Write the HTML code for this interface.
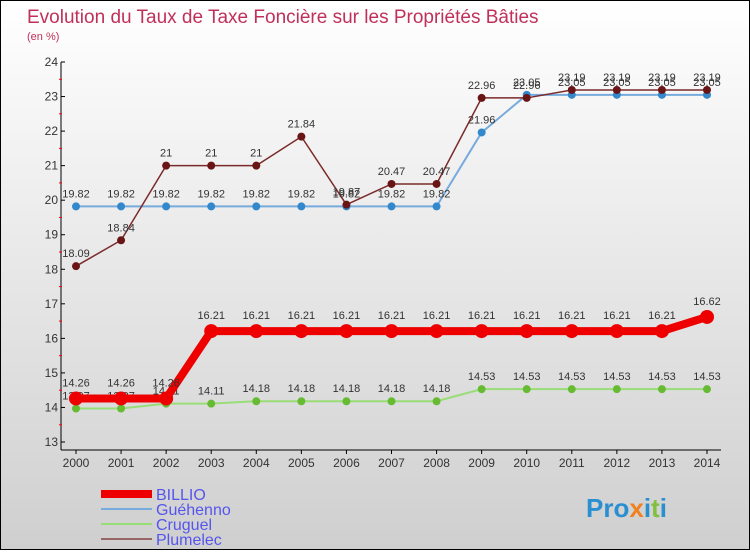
<!DOCTYPE html>
<html><head><meta charset="utf-8"><style>
body{margin:0;width:750px;height:550px;overflow:hidden}
#wrap{position:relative;width:748px;height:548px;border:1px solid #000;background:linear-gradient(#ffffff,#cfcfcf)}
svg text{font-family:"Liberation Sans",sans-serif}
</style></head><body>
<div id="wrap">
<svg id="chart" width="748" height="548">
<text x="26" y="22" font-size="19" fill="#c0305a">Evolution du Taux de Taxe Foncière sur les Propriétés Bâties</text>
<text x="26" y="39" font-size="11" fill="#c0305a">(en %)</text>
<g id="axes"></g><g id="series"></g><g id="legend"></g>
<text x="585" y="516" font-size="26" font-weight="bold" fill="#2a8fd0">Pro<tspan fill="#f08020">x</tspan>i<tspan fill="#80c040">t</tspan>i</text>
</svg></div>
<script>
const years=[2000,2001,2002,2003,2004,2005,2006,2007,2008,2009,2010,2011,2012,2013,2014];
const yTicks=[13,14,15,16,17,18,19,20,21,22,23,24];
const billio=[14.26,14.26,14.26,16.21,16.21,16.21,16.21,16.21,16.21,16.21,16.21,16.21,16.21,16.21,16.62];
const guehenno=[19.82,19.82,19.82,19.82,19.82,19.82,19.82,19.82,19.82,21.96,23.05,23.05,23.05,23.05,23.05];
const cruguel=[13.97,13.97,14.11,14.11,14.18,14.18,14.18,14.18,14.18,14.53,14.53,14.53,14.53,14.53,14.53];
const plumelec=[18.09,18.84,21,21,21,21.84,19.87,20.47,20.47,22.96,22.96,23.19,23.19,23.19,23.19];
const NS='http://www.w3.org/2000/svg';
const x=i=>75+i*(706-75)/(years.length-1);
const y=v=>441-(v-13)*(441-61)/11;
function mk(t,a,p){const e=document.createElementNS(NS,t);for(const k in a)e.setAttribute(k,a[k]);p.appendChild(e);return e;}
const ax=document.getElementById('axes');
let e=mk('line',{x1:60,y1:61,x2:60,y2:449,stroke:'#000','stroke-width':1},ax);


e=mk('line',{x1:60,y1:449,x2:720,y2:449,stroke:'#000','stroke-width':1},ax);


yTicks.forEach(v=>{
 mk('line',{x1:60,y1:y(v),x2:64,y2:y(v),stroke:'#000'},ax);
 if(v<24)mk('line',{x1:58,y1:y(v+0.5),x2:61,y2:y(v+0.5),stroke:'#f00'},ax);
 const t=mk('text',{x:57,y:y(v)+4,'font-size':12,fill:'#333','text-anchor':'end'},ax);t.textContent=v;
 
 
});
years.forEach((yr,i)=>{
 mk('line',{x1:x(i),y1:449,x2:x(i),y2:453,stroke:'#000'},ax);
 const t=mk('text',{x:x(i),y:466,'font-size':12,fill:'#333','text-anchor':'middle'},ax);t.textContent=yr;
 
 
});
const sg=document.getElementById('series');
function series(name,data,color,dot,lw,r,lblOff){
 const g=mk('g',{},sg);
 
 
 const l=mk('polyline',{points:data.map((v,i)=>x(i)+','+y(v)).join(' '),fill:'none',stroke:color,'stroke-width':lw},g);
 
 
 data.forEach((v,i)=>{
  const c=mk('circle',{cx:x(i),cy:y(v),r:r,fill:dot},g);
  
  
  const t=mk('text',{x:x(i),y:y(v)-lblOff,'font-size':11,fill:'#333','text-anchor':'middle'},g);t.textContent=v;
  
  
 });
}
series('cruguel',cruguel,'#99dd77','#66bb33',2,4,9);
series('guehenno',guehenno,'#77aadd','#3388cc',2,4,9);
series('plumelec',plumelec,'#7a2a2a','#6a1515',1.5,4,9);
series('billio',billio,'#ee0000','#ee0000',8,7,12);
const lg=document.getElementById('legend');
const items=[['BILLIO','#ee0000',8],['Guéhenno','#77aadd',2],['Cruguel','#99dd77',2],['Plumelec','#996666',2]];
items.forEach((it,k)=>{
 const yy=493+k*15;
 const g=mk('g',{},lg);
 
 
 mk('line',{x1:100,y1:yy,x2:151,y2:yy,stroke:it[1],'stroke-width':it[2]},g);
 const t=mk('text',{x:155,y:yy+6,'font-size':16,fill:'#5555ee'},g);t.textContent=it[0];
});
</script>
</body></html>
